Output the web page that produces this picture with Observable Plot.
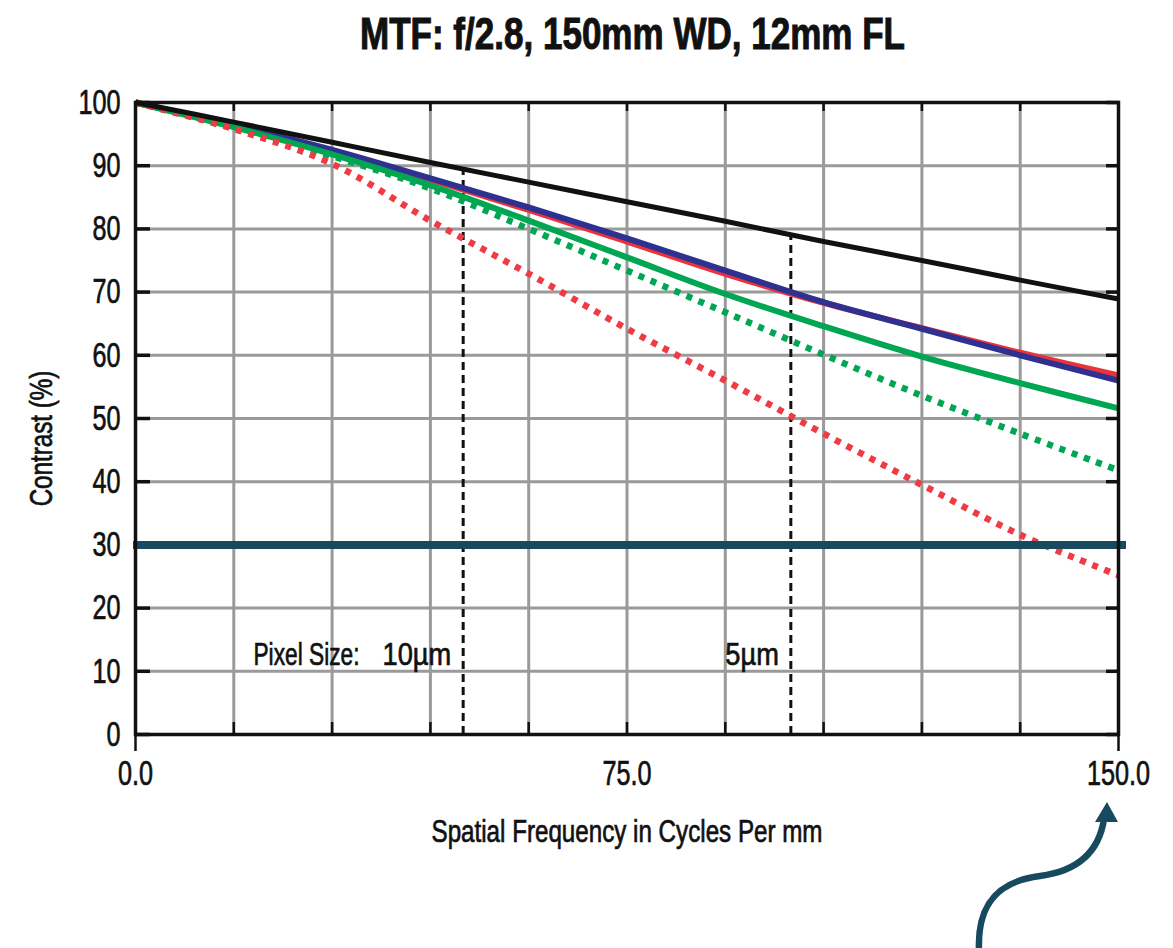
<!DOCTYPE html>
<html>
<head>
<meta charset="utf-8">
<script src="https://cdn.jsdelivr.net/npm/d3@7"></script>
<script src="https://cdn.jsdelivr.net/npm/@observablehq/plot@0.6"></script>
<style>
  html, body { margin: 0; padding: 0; background: #fff; }
  #wrap { position: relative; width: 1173px; height: 948px; overflow: hidden; }
  #title { position: absolute; left: 360px; top: 12px; margin: 0; white-space: nowrap;
           font-family: "Liberation Sans", Arial, sans-serif; font-weight: bold; font-size: 44px;
           line-height: 44px; color: #111; transform-origin: 0 0; display: inline-block;
           -webkit-text-stroke: 1px #111; }
  #chart { position: absolute; left: 0; top: 70px; }
  #chart svg text { stroke: #111; stroke-width: 0.7px; }
</style>
</head>
<body>
<div id="wrap">
  <div id="title">MTF: f/2.8, 150mm WD, 12mm FL</div>
  <div id="chart"></div>
</div>
<script>
// ---- data ----
const freq = [0, 15, 30, 45, 60, 75, 90, 105, 120, 135, 150];
const diffractionLimit = [100, 96.9, 93.7, 90.5, 87.4, 84.3, 81.2, 78.0, 75.0, 71.9, 68.9];
const redSolid    = [100, 96.3, 92.3, 87.8, 83.0, 78.0, 72.9, 68.3, 64.3, 60.4, 56.8];
const blueSolid   = [100, 96.4, 92.5, 88.0, 83.4, 78.5, 73.4, 68.4, 64.2, 60.0, 56.0];
const greenSolid  = [100, 96.1, 91.8, 86.9, 81.3, 75.5, 69.7, 64.6, 59.8, 55.6, 51.6];
const greenDotted = [100, 96.0, 91.5, 86.4, 80.0, 73.4, 66.8, 60.1, 53.6, 47.6, 41.8];
const redDotted   = [100, 95.8, 90.3, 81.3, 72.9, 64.2, 56.0, 47.6, 39.5, 31.6, 25.2];

const yTicks = [0, 10, 20, 30, 40, 50, 60, 70, 80, 90, 100];
const xGrid = [0, 15, 30, 45, 60, 75, 90, 105, 120, 135, 150];
const xTickLabels = [0, 75, 150];
const xEdgeTicks = [0, 150];

const pixelFreq = [50, 100];
const pixelLabels = ["10µm", "5µm"];
const pixelLimit = [89.5, 79.0];
const pixelCaption = "Pixel Size:";
const pixelCaptionFreq = 18;
const pixelTextLevel = 10;

const threshold = 30;

const xTitle = "Spatial Frequency in Cycles Per mm";
const yTitle = "Contrast (%)";

// ---- tables built from arrays ----
const toRows = vals => freq.map((f, i) => ({f, v: vals[i]}));
const styles = [
  {vals: redSolid,    stroke: "#e8333c", w: 6,   dash: null},
  {vals: blueSolid,   stroke: "#2f3190", w: 6,   dash: null},
  {vals: greenSolid,  stroke: "#00a651", w: 6,   dash: null},
  {vals: greenDotted, stroke: "#00a651", w: 6.5, dash: "6,7"},
  {vals: redDotted,   stroke: "#ee3b44", w: 6.5, dash: "6,7"},
  {vals: diffractionLimit, stroke: "#111", w: 5, dash: null}
];
const pixelRows = pixelFreq.map((f, i) => ({f, top: pixelLimit[i], label: pixelLabels[i]}));

const font = "Liberation Sans, Arial, sans-serif";
const ink = "#111";
const navy = "#174a5e";

const plot = Plot.plot({
  width: 1173,
  height: 878,
  marginLeft: 135,
  marginRight: 55,
  marginTop: 32,
  marginBottom: 214,
  style: {fontFamily: font, color: ink, background: "transparent", overflow: "visible"},
  x: {domain: [0, 150]},
  y: {domain: [0, 100]},
  marks: [
    // grid
    Plot.ruleX(xGrid, {stroke: "#9a9a9a", strokeWidth: 3, strokeOpacity: 1}),
    Plot.ruleY(yTicks, {stroke: "#9a9a9a", strokeWidth: 3, strokeOpacity: 1}),
    // inward ticks
    Plot.axisY(yTicks, {anchor: "left", tickSize: -15, tickFormat: () => "", label: null, strokeWidth: 3.5, strokeOpacity: 1}),
    Plot.axisY(yTicks, {anchor: "right", tickSize: -13, tickFormat: () => "", label: null, strokeWidth: 3.5, strokeOpacity: 1}),
    Plot.axisX(xGrid, {anchor: "bottom", tickSize: -12, tickFormat: () => "", label: null, strokeWidth: 2.5, strokeOpacity: 1}),
    Plot.axisX(xGrid, {anchor: "top", tickSize: -8, tickFormat: () => "", label: null, strokeWidth: 2.5, strokeOpacity: 1}),
    Plot.axisX(xEdgeTicks, {anchor: "bottom", tickSize: 17, tickFormat: () => "", label: null, strokeWidth: 2.5, strokeOpacity: 1}),
    // pixel-size markers
    Plot.ruleX(pixelRows, {x: "f", y1: 0, y2: "top", stroke: ink, strokeWidth: 3, strokeDasharray: "8,5"}),
    // MTF curves
    ...styles.map(s => Plot.line(toRows(s.vals), {
      x: "f", y: "v", curve: "catmull-rom", stroke: s.stroke, strokeWidth: s.w,
      strokeDasharray: s.dash, strokeLinecap: "butt", strokeLinejoin: "round"
    })),
    // 30% threshold
    Plot.ruleY([threshold], {stroke: navy, strokeWidth: 8, insetRight: -8, insetLeft: -2}),
    // frame
    Plot.frame({stroke: ink, strokeWidth: 3.5}),
    // pixel size annotations
    Plot.text([pixelCaption], {x: pixelCaptionFreq, y: pixelTextLevel, text: d => d, textAnchor: "start",
      lineAnchor: "bottom", dy: -6, fontSize: 32, fill: ink, className: "pix"}),
    Plot.text(pixelRows, {x: "f", y: pixelTextLevel, text: "label", textAnchor: "end",
      lineAnchor: "bottom", dx: -12, dy: -6, fontSize: 32, fill: ink, className: "pixv"}),
    // tick labels
    Plot.axisY(yTicks, {anchor: "left", tickSize: 0, tickPadding: 15, fontSize: 35, label: null}),
    Plot.axisX(xTickLabels, {anchor: "bottom", tickSize: 0, tickPadding: 26, fontSize: 35,
      tickFormat: d => d.toFixed(1), label: null}),
    // axis titles
    Plot.text([xTitle], {frameAnchor: "bottom", text: d => d, dy: 98, lineAnchor: "middle",
      textAnchor: "middle", fontSize: 31, fill: ink, className: "lbl"}),
    Plot.text([yTitle], {frameAnchor: "left", text: d => d, dx: -93, dy: 20, rotate: -90,
      textAnchor: "middle", lineAnchor: "middle", fontSize: 31, fill: ink, className: "lbl"})
  ]
});

document.getElementById("chart").appendChild(plot);

// condense the lettering (reference uses a condensed face)
plot.querySelectorAll("text").forEach(t => {
  let f = 0.72;
  if (t.closest(".lbl")) f = 0.78;
  else if (t.closest(".pixv")) f = 0.85;
  else if (t.closest(".pix")) f = 0.71;
  const w = t.getComputedTextLength();
  if (w > 0) {
    t.setAttribute("textLength", (w * f).toFixed(1));
    t.setAttribute("lengthAdjust", "spacingAndGlyphs");
  }
});

// title: condensed to the reference width
const title = document.getElementById("title");
const tw = title.getBoundingClientRect().width;
title.style.transform = `scaleX(${545 / tw})`;

// decorative curved arrow pointing at the 150.0 label
const ns = "http://www.w3.org/2000/svg";
const arrow = document.createElementNS(ns, "path");
arrow.setAttribute("d", "M979,880 C977,832 1000,811 1040,806 C1078,801 1099,782 1104,749");
arrow.setAttribute("fill", "none");
arrow.setAttribute("stroke", navy);
arrow.setAttribute("stroke-width", "6.5");
plot.appendChild(arrow);
const head = document.createElementNS(ns, "path");
head.setAttribute("d", "M1107,732 L1095,752 L1118,752 Z");
head.setAttribute("fill", navy);
plot.appendChild(head);
</script>
</body>
</html>
